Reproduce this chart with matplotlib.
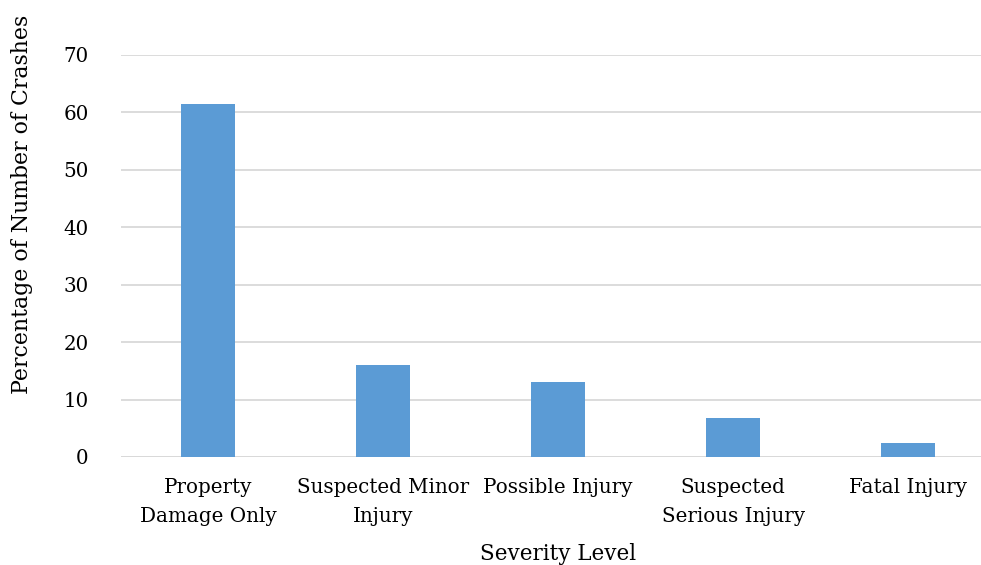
import numpy as np
import matplotlib.pyplot as plt

plt.rcParams['font.family'] = ['DejaVu Serif']

categories = ['Property\nDamage Only', 'Suspected Minor\nInjury', 'Possible Injury',
              'Suspected\nSerious Injury', 'Fatal Injury']
percent = [61.4, 16.05, 13.1, 6.8, 2.5]
yticks = [0, 10, 20, 30, 40, 50, 60, 70]

fig = plt.figure(figsize=(9.81, 5.65), dpi=100)
ax = fig.add_axes([120.7 / 981, 108 / 565, 875 / 981, 402 / 565])

x = np.arange(len(categories))
ax.bar(x, percent, width=0.31, color='#5b9bd5', zorder=3)

ax.set_xlim(-0.5, len(categories) - 0.5)
ax.set_ylim(0, 70)
ax.set_yticks(yticks)
ax.yaxis.grid(True, color='#d9d9d9', linewidth=1.3, zorder=0)
ax.set_xticks(x)
ax.set_xticklabels(categories, fontsize=14.3, linespacing=1.68)
ax.tick_params(axis='y', length=0, pad=23, labelsize=14.3)
ax.tick_params(axis='x', length=0, pad=15)
for s in ax.spines.values():
    s.set_visible(False)
ax.axhline(0, color='#d9d9d9', linewidth=1.3, zorder=2)

ax.set_xlabel('Severity Level', fontsize=15.5, labelpad=12)
ax.set_ylabel('Percentage of Number of Crashes', fontsize=15.8)
ax.yaxis.set_label_coords(-0.100, 0.629)

fig.savefig('out.png', dpi=100)
